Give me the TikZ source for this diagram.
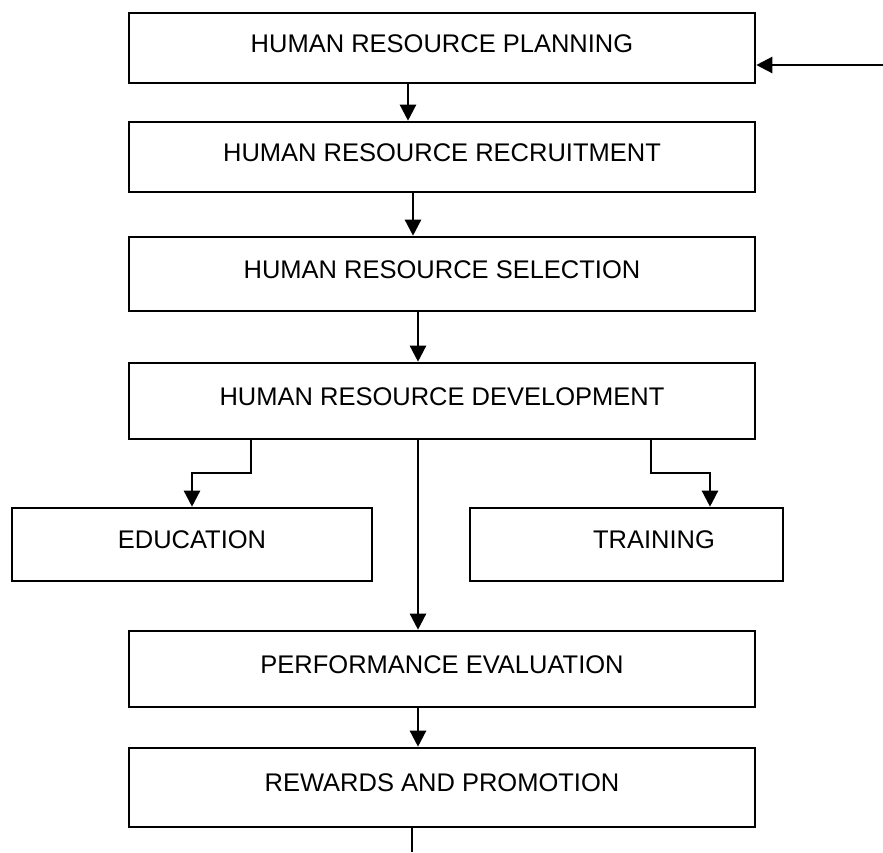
\documentclass[tikz,border=0pt]{standalone}
\usepackage{fontspec}
\setmainfont{Liberation Sans}
\usetikzlibrary{arrows.meta}
\begin{document}
\begin{tikzpicture}[x=1pt,y=-1pt,
  box/.style={draw=black, line width=2.6pt, rectangle, inner sep=0pt,
    font=\fontsize{25.5}{30}\selectfont, text height=18pt, text depth=10pt},
  arr/.style={line width=2.4pt, -{Triangle[width=16pt,length=16pt]}},
  ln/.style={line width=2.4pt}]
\useasboundingbox (0,0) rectangle (883,852);
\node[box, minimum width=626pt, minimum height=70pt] (b1) at (442,48) {HUMAN RESOURCE PLANNING};
\node[box, minimum width=626pt, minimum height=70pt] (b2) at (442,157) {HUMAN RESOURCE RECRUITMENT};
\node[box, minimum width=626pt, minimum height=74pt] (b3) at (442,274) {HUMAN RESOURCE SELECTION};
\node[box, minimum width=626pt, minimum height=76pt] (b4) at (442,401) {HUMAN RESOURCE DEVELOPMENT};
\node[box, minimum width=360pt, minimum height=73pt] (edu) at (192,544.5) {EDUCATION};
\node[box, minimum width=313pt, minimum height=73pt] (train) at (626.5,544.5) {\hspace*{55pt}TRAINING};
\node[box, minimum width=626pt, minimum height=76pt] (b5) at (442,669) {PERFORMANCE EVALUATION};
\node[box, minimum width=626pt, minimum height=79pt] (b6) at (442,787.5) {REWARDS AND PROMOTION};
\coordinate (in) at (883,65);
\coordinate (out) at (412,852);
\draw[arr] (in) -- (in -| b1.east);
\draw[arr] (b1.south -| 408,0) -- (b2.north -| 408,0);
\draw[arr] (b2.south -| 413,0) -- (b3.north -| 413,0);
\draw[arr] (b3.south -| 418,0) -- (b4.north -| 418,0);
\draw[arr] (b4.south -| 418,0) -- (b5.north -| 418,0);
\draw[arr] (b5.south -| 418,0) -- (b6.north -| 418,0);
\draw[arr] (b4.south -| 251,0) -- (251,473) -- (192,473) -- (edu.north -| 192,0);
\draw[arr] (b4.south -| 651,0) -- (651,473) -- (710,473) -- (train.north -| 710,0);
\draw[ln] (b6.south -| out) -- (out);
\end{tikzpicture}
\end{document}
